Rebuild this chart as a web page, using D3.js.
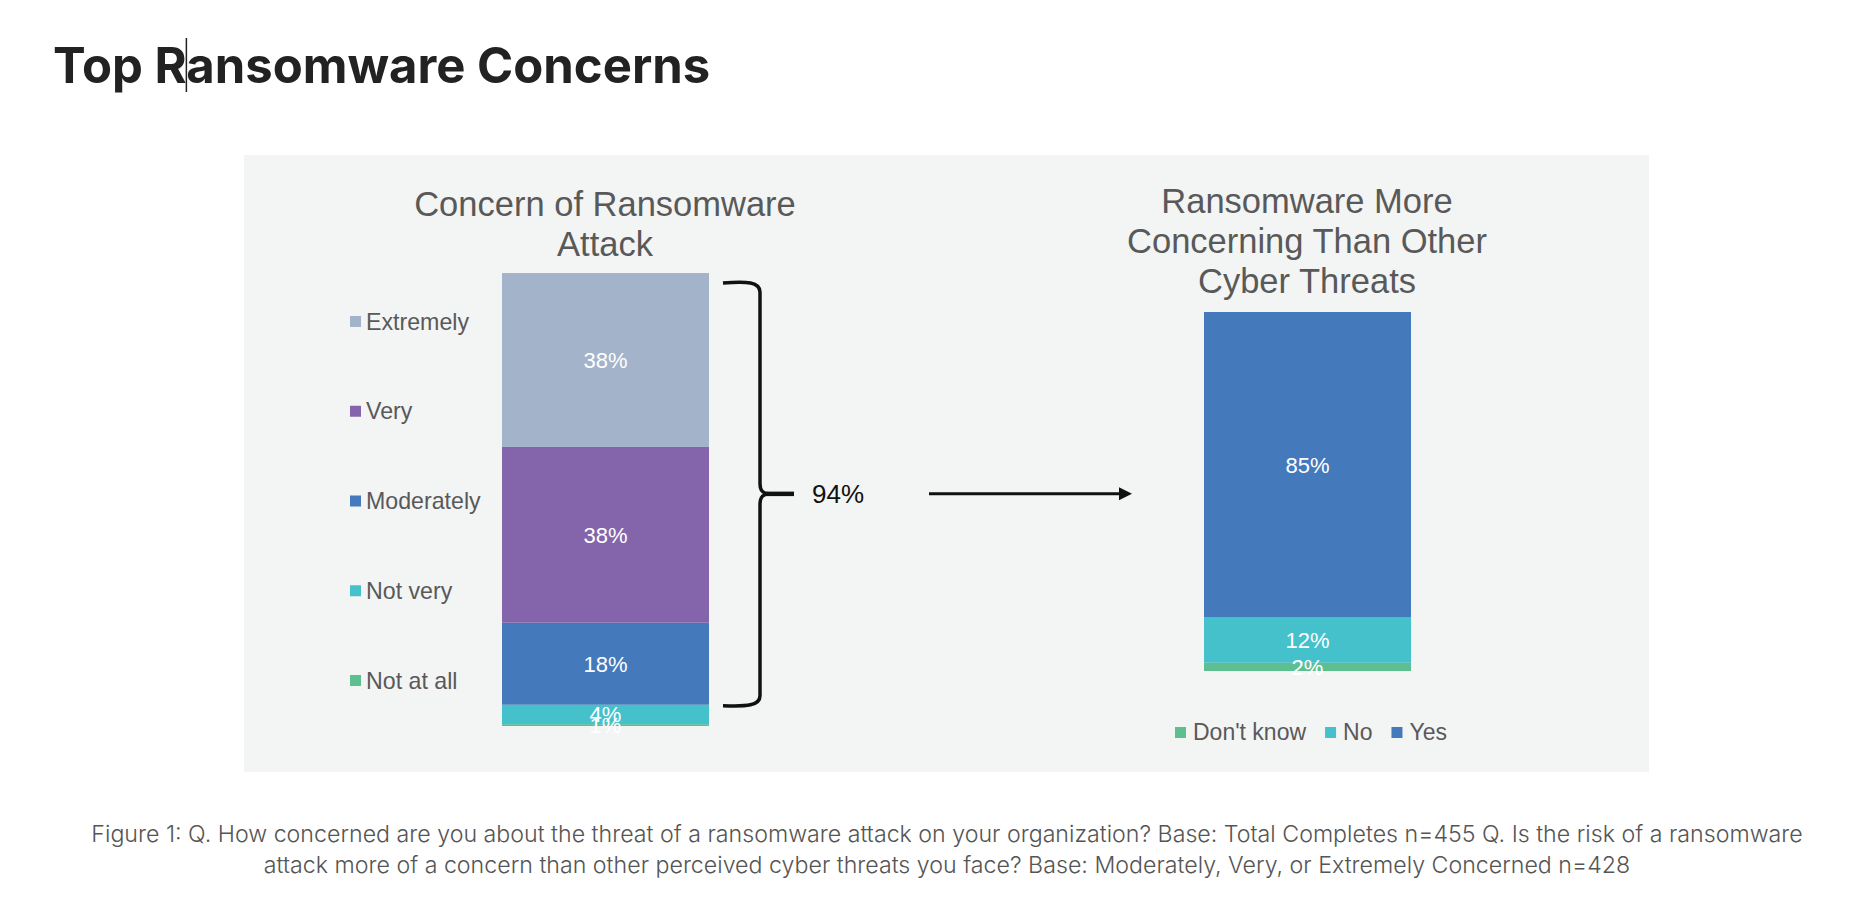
<!DOCTYPE html>
<html>
<head>
<meta charset="utf-8">
<script src="https://cdn.jsdelivr.net/npm/d3@7"></script>
<style>
  body { margin: 0; background: #ffffff; }
</style>
</head>
<body>
<div id="chart"></div>
<script>
// data
var concernLevels = ["Extremely", "Very", "Moderately", "Not very", "Not at all"];
var concernValues = [38.4, 38.8, 18.1, 4.3, 0.4];
var concernLabels = ["38%", "38%", "18%", "4%", "1%"];

var threatLevels = ["Yes", "No", "Don't know"];
var threatValues = [85.1, 12.6, 2.3];
var threatLabels = ["85%", "12%", "2%"];
var threatLegendOrder = ["Don't know", "No", "Yes"];

var bracketLabel = "94%";

var colors = {
  "Extremely": "#a3b3ca",
  "Very": "#8465ab",
  "Moderately": "#4479bb",
  "Not very": "#45c1cc",
  "Not at all": "#5dbf8f",
  "Yes": "#4479bb",
  "No": "#45c1cc",
  "Don't know": "#5dbf8f"
};

var width = 1864,
  height = 904;

var chartFont = "'Liberation Sans', Arial, sans-serif";
var greyText = "#595959";

var svg = d3
  .select("#chart")
  .append("svg")
  .attr("width", width)
  .attr("height", height);

// page title
var title = svg
  .append("text")
  .attr("x", 53)
  .attr("y", 83)
  .attr("font-family", "Inter, sans-serif")
  .attr("font-weight", 700)
  .attr("font-size", 49)
  .attr("fill", "#222")
  .text("Top Ransomware Concerns");

// the text caret sitting after the R
var caretX = 53 + title.node().getSubStringLength(0, 5);
svg
  .append("line")
  .attr("x1", caretX)
  .attr("x2", caretX)
  .attr("y1", 38)
  .attr("y2", 92)
  .style("stroke", "#222")
  .style("stroke-width", 1.5);

// grey panel behind the charts
svg
  .append("rect")
  .attr("x", 244)
  .attr("y", 155)
  .attr("width", 1405)
  .attr("height", 617)
  .attr("fill", "#f3f4f4");

// stacked bar helper
function stackedBar(levels, values, labels, x, y, key) {
  var row = {};
  levels.forEach(function (d, i) {
    row[d] = values[i];
  });
  // bottom segment first
  var series = d3.stack().keys(levels.slice().reverse())([row]);

  var g = svg.append("g");
  g.selectAll("rect")
    .data(series)
    .enter()
    .append("rect")
    .attr("x", x(key))
    .attr("width", x.bandwidth())
    .attr("y", function (d) {
      return y(d[0][1]);
    })
    .attr("height", function (d) {
      return y(d[0][0]) - y(d[0][1]);
    })
    .attr("fill", function (d) {
      return colors[d.key];
    });

  g.selectAll("text")
    .data(series)
    .enter()
    .append("text")
    .attr("x", x(key) + x.bandwidth() / 2)
    .attr("y", function (d) {
      return (y(d[0][0]) + y(d[0][1])) / 2 + 8;
    })
    .attr("text-anchor", "middle")
    .attr("font-family", chartFont)
    .attr("font-size", 22)
    .attr("fill", "#ffffff")
    .text(function (d) {
      return labels[levels.indexOf(d.key)];
    });
  return series;
}

function chartTitle(lines, cx, y0) {
  svg
    .append("text")
    .attr("font-family", chartFont)
    .attr("font-size", 34.5)
    .attr("fill", greyText)
    .attr("text-anchor", "middle")
    .selectAll("tspan")
    .data(lines)
    .enter()
    .append("tspan")
    .attr("x", cx)
    .attr("y", function (d, i) {
      return y0 + i * 40;
    })
    .text(function (d) {
      return d;
    });
}

///////////////////////////////////////////////
// left chart: concern of ransomware attack
///////////////////////////////////////////////
var xLeft = d3.scaleBand().domain(["concern"]).range([502, 709]).padding(0);
var yLeft = d3.scaleLinear().domain([0, 100]).range([726, 273]);

chartTitle(["Concern of Ransomware", "Attack"], 605, 216);
var leftSeries = stackedBar(concernLevels, concernValues, concernLabels, xLeft, yLeft, "concern");

// legend on the left
var legendY = d3.scalePoint().domain(concernLevels).range([321.5, 680.5]);
var legendLeft = svg.append("g");
legendLeft
  .selectAll("rect")
  .data(concernLevels)
  .enter()
  .append("rect")
  .attr("x", 350)
  .attr("y", function (d) {
    return legendY(d) - 5.5;
  })
  .attr("width", 11)
  .attr("height", 11)
  .attr("fill", function (d) {
    return colors[d];
  });
legendLeft
  .selectAll("text")
  .data(concernLevels)
  .enter()
  .append("text")
  .attr("x", 366)
  .attr("y", function (d) {
    return legendY(d) + 8;
  })
  .attr("font-family", chartFont)
  .attr("font-size", 23.2)
  .attr("fill", greyText)
  .text(function (d) {
    return d;
  });

// curly bracket over Extremely + Very + Moderately
var concerned = leftSeries.filter(function (s) {
  return ["Extremely", "Very", "Moderately"].indexOf(s.key) > -1;
});
var bTop = yLeft(d3.max(concerned, function (s) { return s[0][1]; })) + 9;
var bBot = yLeft(d3.min(concerned, function (s) { return s[0][0]; })) + 1;
var bMid = (bTop + bBot) / 2;
var bx0 = xLeft("concern") + xLeft.bandwidth() + 14,
  bx1 = bx0 + 37;

svg
  .append("path")
  .attr(
    "d",
    "M" + bx0 + "," + (bTop + 1) +
      " C" + (bx0 + 24) + "," + (bTop - 1) + " " + bx1 + "," + bTop + " " + bx1 + "," + (bTop + 10) +
      " L" + bx1 + "," + (bMid - 10) +
      " C" + bx1 + "," + (bMid - 3) + " " + (bx1 + 3) + "," + bMid + " " + (bx1 + 10) + "," + bMid +
      " C" + (bx1 + 3) + "," + bMid + " " + bx1 + "," + (bMid + 3) + " " + bx1 + "," + (bMid + 10) +
      " L" + bx1 + "," + (bBot - 10) +
      " C" + bx1 + "," + bBot + " " + (bx0 + 24) + "," + (bBot + 1) + " " + bx0 + "," + bBot
  )
  .style("fill", "none")
  .style("stroke", "#111")
  .style("stroke-width", 3.5);

svg
  .append("line")
  .attr("x1", bx1 + 6)
  .attr("x2", bx1 + 34)
  .attr("y1", bMid)
  .attr("y2", bMid)
  .style("stroke", "#111")
  .style("stroke-width", 4.5);

svg
  .append("text")
  .attr("x", 812)
  .attr("y", bMid + 9)
  .attr("font-family", chartFont)
  .attr("font-size", 26)
  .attr("fill", "#111")
  .text(bracketLabel);

// arrow to the second chart
svg
  .append("line")
  .attr("x1", 929)
  .attr("x2", 1120)
  .attr("y1", bMid)
  .attr("y2", bMid)
  .style("stroke", "#111")
  .style("stroke-width", 3);
svg
  .append("path")
  .attr("d", "M1119," + (bMid - 6.5) + " L1132," + bMid + " L1119," + (bMid + 6.5) + " Z")
  .attr("fill", "#111");

///////////////////////////////////////////////
// right chart: more concerning than other threats
///////////////////////////////////////////////
var xRight = d3.scaleBand().domain(["threat"]).range([1204, 1411]).padding(0);
var yRight = d3.scaleLinear().domain([0, 100]).range([671, 312]);

chartTitle(["Ransomware More", "Concerning Than Other", "Cyber Threats"], 1307, 213);
stackedBar(threatLevels, threatValues, threatLabels, xRight, yRight, "threat");

// legend under the right bar
var legendRight = svg.append("g");
var lx = 1175;
threatLegendOrder.forEach(function (d) {
  legendRight
    .append("rect")
    .attr("x", lx)
    .attr("y", 727)
    .attr("width", 11)
    .attr("height", 11)
    .attr("fill", colors[d]);
  var t = legendRight
    .append("text")
    .attr("x", lx + 18)
    .attr("y", 740)
    .attr("font-family", chartFont)
    .attr("font-size", 23)
    .attr("fill", greyText)
    .text(d);
  lx += 18 + t.node().getComputedTextLength() + 19;
});

// caption
var captionLines = [
  "Figure 1: Q. How concerned are you about the threat of a ransomware attack on your organization? Base: Total Completes n=455 Q. Is the risk of a ransomware",
  "attack more of a concern than other perceived cyber threats you face? Base: Moderately, Very, or Extremely Concerned n=428"
];
svg
  .append("text")
  .attr("font-family", "Inter, sans-serif")
  .attr("font-weight", 300)
  .attr("font-size", 23.2)
  .attr("fill", "#555")
  .attr("text-anchor", "middle")
  .selectAll("tspan")
  .data(captionLines)
  .enter()
  .append("tspan")
  .attr("x", 947)
  .attr("y", function (d, i) {
    return 842 + i * 31;
  })
  .text(function (d) {
    return d;
  });
</script>
</body>
</html>
